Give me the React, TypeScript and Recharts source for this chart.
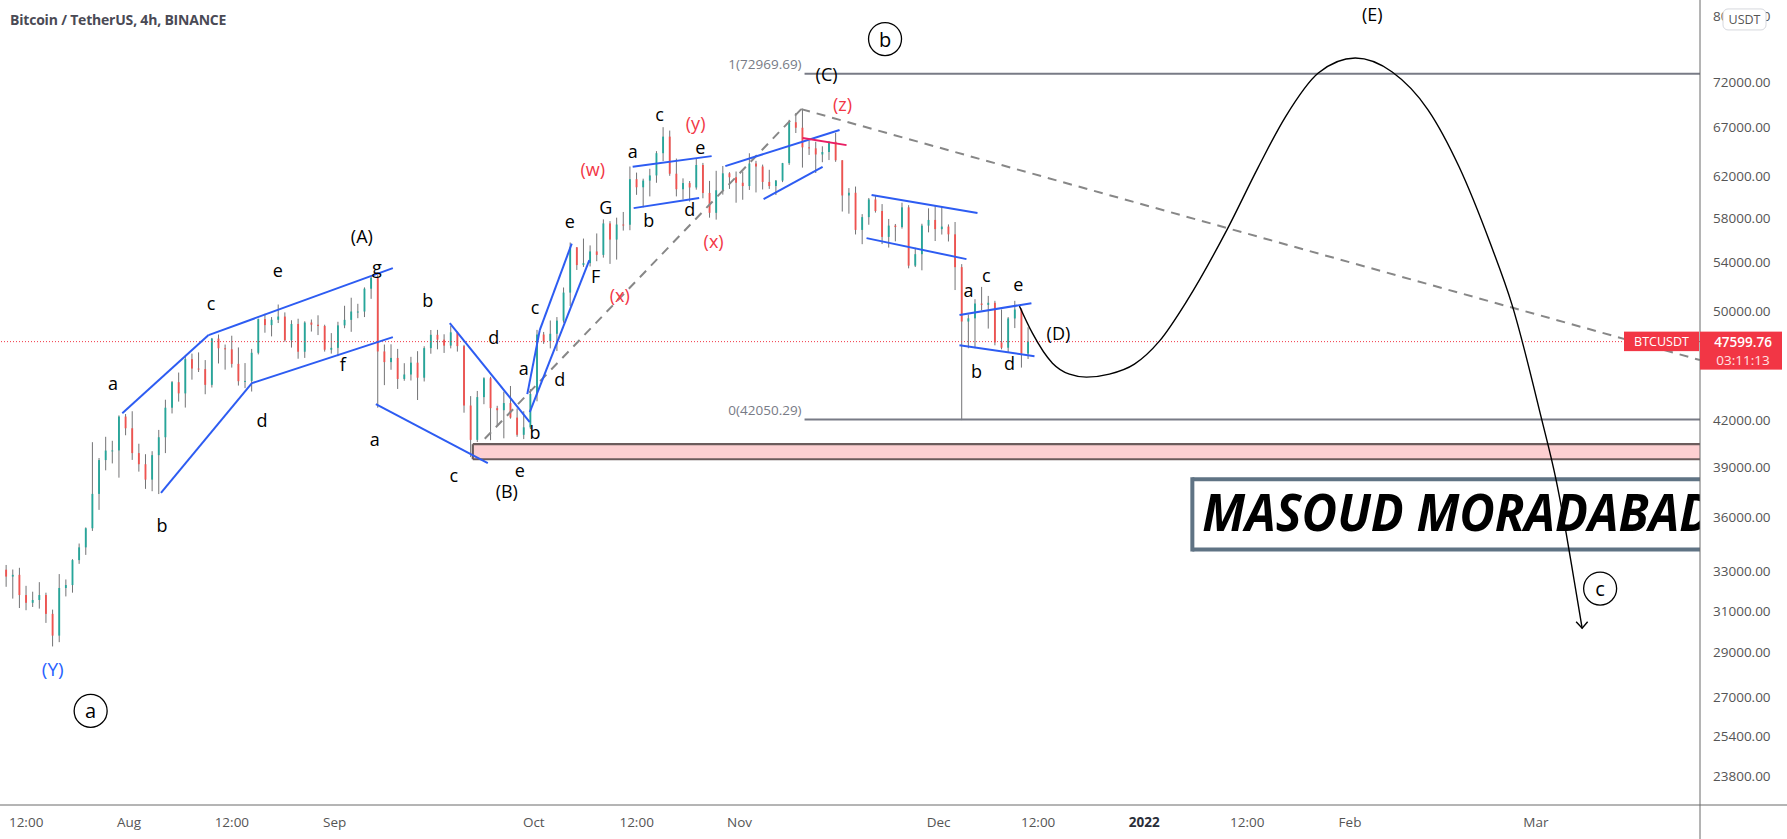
import React from 'react';
import {
  ComposedChart,
  Bar,
  Line,
  XAxis,
  YAxis,
  ReferenceLine,
  ReferenceArea,
  ReferenceDot,
} from 'recharts';

// ---------- time / price frame ----------
const ORIGIN_DATE = '2021-08-01';
const FIRST_CANDLE_DATE = '2021-07-13';
const X_MIN = -19.44;
const X_MAX = 236.74;
const Y_MIN = 22740;
const Y_MAX = 82060;

// ---------- daily candles (Jul 13 – Dec 14, 2021) ----------
const OPEN = [
  33090, 32730, 32820, 31780, 31390, 31530, 31780, 30840, 29790, 32140, 32290, 33600, 34290, 35350, 37340, 39410, 40010, 40020, 42240,
  41460, 39850, 39150, 38200, 39720, 40870, 42840, 44620, 43830, 46290, 45600, 45560, 44430, 47830, 47100, 47020, 45940, 44690, 44710, 46760, 49340, 48870, 49290, 49540, 47700, 48960, 46840, 49070, 48900, 48800, 46990,
  47130, 48850, 49280, 49940, 49940, 51790, 52700, 46860, 46070, 46380, 44850, 45170, 46030, 44940, 47110, 48120, 47750, 47300, 48310, 47260, 42990, 40700, 43570, 44900, 42810, 42670, 43160, 42170, 41030, 41520,
  43790, 48140, 47630, 48200, 49220, 51470, 55320, 53780, 53950, 54960, 54660, 57470, 56010, 57370, 57350, 61670, 60880, 61530, 62040, 64280, 66000, 62210, 60690, 61290, 60860, 63080, 60330, 58450, 60590, 62250, 61860,
  61320, 61000, 63230, 62930, 61400, 61000, 61530, 63270, 67530, 66940, 64880, 64780, 64150, 64400, 65470, 63560, 60090, 60350, 56880, 58050, 59710, 58620, 56250, 57270, 57140, 58960, 53730, 54720, 57270, 57790,
  56950, 57180, 56480, 53600, 49150, 49400, 50580, 50470, 50640, 47540, 47140, 49390, 50100, 46700,
];
const HIGH = [
  33340, 33100, 33190, 32250, 31950, 32440, 31900, 31050, 32860, 32580, 33650, 34500, 35400, 40550, 39540, 40900, 40640, 42320, 42410,
  42600, 40450, 39780, 39970, 41350, 43390, 44700, 45310, 46460, 46700, 46790, 46220, 47880, 48140, 47380, 48050, 47160, 46000, 47050, 49380, 49760, 49500, 50500, 49870, 49250, 49370, 49170, 49310, 49640, 48900, 48250,
  49130, 50400, 51050, 50560, 51900, 52800, 52920, 47380, 47400, 47050, 45990, 46460, 46880, 47250, 48490, 48500, 48160, 48810, 48370, 47360, 43640, 44000, 44970, 45000, 42970, 43950, 44350, 42790, 42600, 44130,
  48500, 48340, 49230, 49500, 51890, 55750, 55340, 56100, 55490, 56560, 57840, 57680, 58000, 58530, 62930, 62320, 61720, 62700, 64490, 67000, 66640, 63730, 61750, 61490, 63710, 63290, 61500, 62500, 62980, 62360, 62430,
  62420, 64270, 63500, 63120, 62600, 61590, 63290, 67790, 68530, 69000, 65600, 65460, 64990, 65500, 66400, 63560, 60800, 60950, 58330, 59850, 60030, 59270, 57880, 57420, 59400, 59170, 55280, 57440, 58870, 59170,
  59050, 57380, 57600, 53860, 49700, 50930, 51940, 51200, 50800, 50100, 49500, 50800, 50200, 48700,
];
const LOW = [
  32200, 31600, 31130, 31020, 31180, 31100, 30400, 29280, 29480, 31710, 31900, 33400, 33880, 35200, 36400, 38770, 39200, 38320, 41000,
  39420, 38690, 37640, 37500, 37330, 39850, 42450, 43260, 42850, 44800, 45350, 43770, 44240, 45970, 45520, 45670, 44380, 44200, 43960, 46640, 48280, 48000, 49030, 47600, 47150, 46320, 46380, 48370, 48100, 46850, 46700,
  46510, 48630, 48350, 49410, 49500, 50960, 42840, 44410, 45510, 44140, 44720, 44740, 43370, 44670, 46690, 47020, 46750, 47090, 46850, 42500, 39600, 40560, 43080, 40680, 41650, 40800, 42100, 40900, 40750, 41410,
  43280, 47430, 47090, 46890, 49060, 50380, 53360, 53620, 53660, 54110, 54420, 53880, 54250, 56820, 56850, 60150, 58960, 60000, 61320, 63480, 62000, 60000, 59700, 59510, 60650, 59820, 58000, 57820, 60170, 60720, 59400,
  59680, 60620, 60380, 60670, 60720, 60130, 61380, 63090, 66380, 62820, 64100, 62280, 63360, 63580, 63400, 58570, 58370, 56470, 55600, 57350, 58470, 55610, 55300, 55850, 57000, 53500, 53610, 53330, 56660, 55880,
  56460, 55840, 51680, 42000, 47100, 47100, 50040, 48600, 47320, 47020, 46750, 48640, 45670, 46300,
];
const CLOSE = [
  32730, 32820, 31780, 31390, 31530, 31780, 30840, 29790, 32140, 32290, 33600, 34290, 35350, 37340, 39410, 40010, 40020, 42240, 41460,
  39850, 39150, 38200, 39720, 40870, 42840, 44620, 43830, 46290, 45600, 45560, 44430, 47830, 47100, 47020, 45940, 44690, 44710, 46760, 49340, 48870, 49290, 49540, 47700, 48960, 46840, 49070, 48900, 48800, 46990, 47130,
  48850, 49280, 49940, 49940, 51790, 52700, 46860, 46070, 46380, 44850, 45170, 46030, 44940, 47110, 48120, 47750, 47300, 48310, 47260, 42990, 40700, 43570, 44900, 42810, 42670, 43160, 42170, 41030, 41520, 43790,
  48140, 47630, 48200, 49220, 51470, 55320, 53780, 53950, 54960, 54660, 57470, 56010, 57370, 57350, 61670, 60880, 61530, 62040, 64280, 66000, 62210, 60690, 61290, 60860, 63080, 60330, 58450, 60590, 62250, 61860, 61320,
  61000, 63230, 62930, 61400, 61000, 61530, 63270, 67530, 66940, 64880, 64780, 64150, 64400, 65470, 63560, 60090, 60350, 56880, 58050, 59710, 58620, 56250, 57270, 57140, 58960, 53730, 54720, 57270, 57790, 56950,
  57180, 56480, 53600, 49150, 49400, 50580, 50470, 50640, 47540, 47140, 49390, 50100, 46700, 47600,
];
const LAST_PRICE = 47599.76;

// ---------- axes ----------
const Y_TICKS = [23800, 25400, 27000, 29000, 31000, 33000, 36000, 39000, 42000, 50000, 54000, 58000, 62000, 67000, 72000, 80000];
const X_TICK_DAYS = [-15.5, 0, 15.5, 31, 61, 76.5, 92, 122, 137, 153, 168.5, 184, 212];
const X_TICK_LABELS = ['12:00', 'Aug', '12:00', 'Sep', 'Oct', '12:00', 'Nov', 'Dec', '12:00', '2022', '12:00', 'Feb', 'Mar'];

// ---------- drawings (day since Aug 1, price) ----------
const BLACK_LABELS: [string, number, number][] = [
  ['(A)', 35.09, 56330], ['g', 37.35, 53650], ['e', 22.44, 53350], ['c', 12.35, 50610], ['a', -2.41, 44590],
  ['b', 4.97, 35520], ['d', 20.03, 42000], ['f', 32.23, 45920], ['b', 45.03, 50850], ['a', 37.05, 40740],
  ['c', 48.95, 38470], ['d', 54.97, 47940], ['e', 58.89, 38770], ['(B)', 56.93, 37500], ['a', 59.49, 45630],
  ['b', 61.2, 41200], ['c', 61.2, 50290], ['d', 64.91, 44830], ['e', 66.42, 57690], ['F', 70.33, 52840],
  ['G', 71.84, 58990], ['a', 75.9, 64500], ['b', 78.31, 57830], ['c', 79.97, 68420], ['e', 86.1, 64900],
  ['d', 84.49, 58800], ['(C)', 105.12, 72930], ['a', 126.5, 51670], ['c', 129.2, 52920], ['e', 134.0, 52170],
  ['(D)', 140.06, 48250], ['b', 127.7, 45410], ['d', 132.68, 46000], ['(E)', 187.35, 80300],
];
const RED_LABELS: [string, number, number][] = [
  ['(w)', 69.88, 62680], ['(x)', 73.95, 51260], ['(y)', 85.39, 67400], ['(x)', 88.1, 55870], ['(z)', 107.53, 69510],
];
const BLUE_LABELS: [string, number, number][] = [['(Y)', -11.49, 28230]];
const CIRCLE_LABELS: [string, number, number][] = [['b', 113.93, 77110], ['a', -5.78, 26420], ['c', 221.69, 32110]];

const BLUE_SEGMENTS: [number, number, number, number][] = [
  [-1.01, 42470, 11.99, 48100], [11.99, 48100, 39.76, 53520], [4.82, 37400, 18.52, 44550], [18.52, 44550, 39.76, 47940],
  [37.2, 43080, 54.07, 39220], [48.34, 49020, 60.39, 41870], [60.02, 43780, 61.9, 48480], [61.9, 48480, 66.72, 55650],
  [60.39, 42540, 69.37, 54210], [75.9, 62910, 87.8, 63980], [76.05, 58890, 85.92, 59840], [89.86, 62970, 107.08, 66700],
  [95.63, 59740, 104.52, 62880], [111.9, 60130, 127.86, 58430], [111.14, 56140, 126.2, 54290], [125.15, 49660, 135.99, 50610],
  [125.15, 47330, 136.45, 46510],
];
const PINK_SEGMENTS: [number, number, number, number][] = [[101.51, 65850, 108.13, 65110]];
const DASHED_SEGMENTS: [number, number, number, number][] = [[53.61, 40770, 101.3, 68960], [101.3, 68960, X_MAX, 46220]];

const FIB_START = 101.8;
const FIB_LEVELS = [72969.69, 42050.29];
const FIB_TEXTS: [string, number, number][] = [['1(72969.69)', 101.36, 74100], ['0(42050.29)', 101.36, 42670]];

const ZONE = { x1: 51.81, y1: 39460, y2: 40420 };
const SIGN_BOX = { x1: 160.24, y1: 34171, y2: 38224 };
const SIGN_TEXT = 'MASOUD MORADABAD';

const CURVE_DAYS = [134.19, 136.14, 139.16, 141.72, 144.28, 147.74, 151.51, 155.27, 159.49, 165.51, 170.18, 174.25, 179.22, 184.79, 190.36, 195.78, 200.45, 205.12, 208.43, 212.8, 215.06, 216.57, 217.77, 218.98];
const CURVE_PRICES = [50372, 48248, 45993, 45194, 44978, 45194, 45920, 47637, 50857, 56957, 62872, 68091, 73041, 74809, 73158, 68855, 62872, 55699, 50452, 42198, 38164, 35071, 32538, 30140];

// ---------- styles ----------
const FONT = '"Open Sans", "DejaVu Sans", sans-serif';
const AXIS = '#6a6a6a';
const UP = '#26a69a';
const DOWN = '#ef5350';
const WICK = '#737375';
const BLUE = '#2d5cf2';

const DAY_MS = 86400000;
const firstOffset = (Date.parse(FIRST_CANDLE_DATE) - Date.parse(ORIGIN_DATE)) / DAY_MS;
const candles = CLOSE.map((c, i) => ({
  day: firstOffset + i + 0.5,
  range: [LOW[i], HIGH[i]],
  o: OPEN[i],
  h: HIGH[i],
  l: LOW[i],
  c,
}));
const curveData = CURVE_DAYS.map((d, i) => ({ day: d, price: CURVE_PRICES[i] }));

const Candle = (props: any) => {
  const { x, y, width, height, payload } = props;
  if (!payload || y == null || height == null) return <g />;
  const { o, h, l, c } = payload;
  const lh = Math.log(h);
  const span = lh - Math.log(l) || 1;
  const py = (v: number) => y + ((lh - Math.log(v)) / span) * height;
  const up = c >= o;
  const color = up ? UP : DOWN;
  const mid = x + width / 2;
  const top = py(Math.max(o, c));
  const bot = py(Math.min(o, c));
  return (
    <g>
      <line x1={mid} x2={mid} y1={y} y2={y + height} stroke={WICK} strokeWidth={1} />
      <rect x={x} y={top} width={width} height={Math.max(1, bot - top)} fill={color} />
    </g>
  );
};

const XTick = (props: any) => {
  const { x, y, payload } = props;
  const i = X_TICK_DAYS.indexOf(payload.value);
  const label = i >= 0 ? X_TICK_LABELS[i] : '';
  const bold = label === '2022';
  return (
    <text x={x} y={y + 17} textAnchor="middle" dominantBaseline="central" fill={bold ? '#2a2e39' : '#555'}
      fontWeight={bold ? 700 : 400} fontSize={13.5} fontFamily={FONT}>
      {label}
    </text>
  );
};

const YTick = (props: any) => {
  const { x, y, payload } = props;
  const v = payload.value as number;
  return (
    <g>
      <text x={x} y={y} textAnchor="start" dominantBaseline="central" fill="#555" fontSize={13.5} fontFamily={FONT}>
        {v.toFixed(2)}
      </text>
      {v === 80000 && (
        <g>
          <rect x={x + 10} y={y - 7} width={43} height={21} rx={5} fill="#fff" stroke="#d6d8de" />
          <text x={x + 31.5} y={y + 3.5} textAnchor="middle" dominantBaseline="central" fill="#555" fontSize={12.5} fontFamily={FONT}>
            USDT
          </text>
        </g>
      )}
    </g>
  );
};

const textShape = (t: string, color: string, size: number, anchor: string = 'middle') => (s: any) => (
  <text x={s.cx} y={s.cy} textAnchor={anchor} dominantBaseline="central" fill={color} fontSize={size} fontFamily={FONT}>
    {t}
  </text>
);

const circleShape = (t: string) => (s: any) => (
  <g>
    <circle cx={s.cx} cy={s.cy} r={16.5} fill="#fff" stroke="#000" strokeWidth={1.3} />
    <text x={s.cx} y={s.cy} textAnchor="middle" dominantBaseline="central" fill="#000" fontSize={20} fontFamily={FONT}>
      {t}
    </text>
  </g>
);

const zoneShape = (p: any) => {
  const right = p.x + p.width;
  return (
    <g>
      <rect x={p.x} y={p.y} width={p.width} height={p.height} fill="#fdd0d2" />
      <line x1={p.x} x2={right} y1={p.y} y2={p.y} stroke="#6b5c5c" strokeWidth={2.2} />
      <line x1={p.x} x2={right} y1={p.y + p.height} y2={p.y + p.height} stroke="#6b5c5c" strokeWidth={2.2} />
      <line x1={p.x} x2={p.x} y1={p.y} y2={p.y + p.height} stroke="#6b5c5c" strokeWidth={2.2} />
    </g>
  );
};

const signShape = (p: any) => {
  const right = p.x + p.width;
  return (
    <g>
      <defs>
        <clipPath id="sign-clip">
          <rect x={p.x - 4} y={p.y - 4} width={p.width + 4} height={p.height + 8} />
        </clipPath>
      </defs>
      <g clipPath="url(#sign-clip)">
        <line x1={p.x} x2={right} y1={p.y} y2={p.y} stroke="#5f7384" strokeWidth={4} />
        <line x1={p.x} x2={right} y1={p.y + p.height} y2={p.y + p.height} stroke="#5f7384" strokeWidth={4} />
        <line x1={p.x} x2={p.x} y1={p.y - 2} y2={p.y + p.height + 2} stroke="#5f7384" strokeWidth={4} />
        <text x={p.x + 10} y={p.y + 52} fill="#000" fontSize={52} fontWeight={700} fontStyle="italic"
          fontFamily={FONT} textLength={510} lengthAdjust="spacingAndGlyphs">
          {SIGN_TEXT}
        </text>
      </g>
    </g>
  );
};

const priceTagShape = (s: any) => (
  <g>
    <rect x={s.cx - 76} y={s.cy - 10} width={75} height={19.5} fill="#f23645" />
    <text x={s.cx - 38.5} y={s.cy} textAnchor="middle" dominantBaseline="central" fill="#fff" fontSize={12.5} fontFamily={FONT}>
      BTCUSDT
    </text>
    <rect x={s.cx} y={s.cy - 10} width={82} height={38} fill="#f23645" />
    <text x={s.cx + 43} y={s.cy} textAnchor="middle" dominantBaseline="central" fill="#fff" fontSize={13.5} fontWeight={600} fontFamily={FONT}>
      {LAST_PRICE.toFixed(2)}
    </text>
    <text x={s.cx + 43} y={s.cy + 18.5} textAnchor="middle" dominantBaseline="central" fill="#ffe3e3" fontSize={13.5} fontFamily={FONT}>
      03:11:13
    </text>
  </g>
);

const frameShape = (s: any) => (
  <g>
    <line x1={s.cx} x2={s.cx + 90} y1={s.cy} y2={s.cy} stroke={AXIS} strokeWidth={1} />
    <line x1={s.cx} x2={s.cx} y1={s.cy} y2={s.cy + 40} stroke={AXIS} strokeWidth={1} />
  </g>
);

const arrowDot = (p: any) => {
  if (p.index !== CURVE_DAYS.length - 1) return <g key={`cd${p.index}`} />;
  return (
    <path key="arrow" d={`M${p.cx - 6},${p.cy - 6.5} L${p.cx},${p.cy} L${p.cx + 5.5},${p.cy - 6.5}`}
      stroke="#000" strokeWidth={1.4} fill="none" />
  );
};

export default function App() {
  return (
    <div style={{ position: 'absolute', left: 0, top: 0, width: 1787, height: 839, background: '#ffffff', overflow: 'hidden', fontFamily: FONT }}>
      <ComposedChart width={1787} height={839} data={candles} margin={{ top: 0, right: 0, bottom: 0, left: 0 }}>
        <XAxis dataKey="day" type="number" domain={[X_MIN, X_MAX]} allowDataOverflow ticks={X_TICK_DAYS} interval={0}
          tick={XTick} tickLine={false} tickSize={0} tickMargin={0} axisLine={{ stroke: AXIS }} height={34} />
        <YAxis orientation="right" type="number" scale="log" domain={[Y_MIN, Y_MAX]} allowDataOverflow ticks={Y_TICKS} interval={0}
          tick={YTick} tickLine={false} tickSize={0} tickMargin={13} axisLine={{ stroke: AXIS }} width={87} />

        <ReferenceArea x1={ZONE.x1} x2={X_MAX} y1={ZONE.y1} y2={ZONE.y2} ifOverflow="hidden" shape={zoneShape} />
        <ReferenceArea x1={SIGN_BOX.x1} x2={X_MAX} y1={SIGN_BOX.y1} y2={SIGN_BOX.y2} ifOverflow="hidden" shape={signShape} />

        {FIB_LEVELS.map((lv, i) => (
          <ReferenceLine key={`fib${i}`} segment={[{ x: FIB_START, y: lv }, { x: X_MAX, y: lv }]} ifOverflow="hidden"
            stroke="#787b86" strokeWidth={2} />
        ))}
        <ReferenceLine y={LAST_PRICE} ifOverflow="hidden" stroke="#f23645" strokeWidth={1} strokeDasharray="1 2" />

        <Bar dataKey="range" barSize={4} shape={Candle} isAnimationActive={false} />

        {DASHED_SEGMENTS.map((s, i) => (
          <ReferenceLine key={`ds${i}`} segment={[{ x: s[0], y: s[1] }, { x: s[2], y: s[3] }]} ifOverflow="hidden"
            stroke="#878787" strokeWidth={2} strokeDasharray="9 7" />
        ))}
        {BLUE_SEGMENTS.map((s, i) => (
          <ReferenceLine key={`bs${i}`} segment={[{ x: s[0], y: s[1] }, { x: s[2], y: s[3] }]} ifOverflow="visible"
            stroke={BLUE} strokeWidth={2} />
        ))}
        {PINK_SEGMENTS.map((s, i) => (
          <ReferenceLine key={`ps${i}`} segment={[{ x: s[0], y: s[1] }, { x: s[2], y: s[3] }]} ifOverflow="visible"
            stroke="#e91e63" strokeWidth={2} />
        ))}

        <Line data={curveData} dataKey="price" type="monotone" stroke="#000" strokeWidth={1.4} dot={arrowDot}
          activeDot={false} isAnimationActive={false} />

        {FIB_TEXTS.map(([t, d, p], i) => (
          <ReferenceDot key={`ft${i}`} x={d} y={p} r={0} ifOverflow="visible" shape={textShape(t, '#787b86', 13.5, 'end')} />
        ))}
        {BLACK_LABELS.map(([t, d, p], i) => (
          <ReferenceDot key={`bl${i}`} x={d} y={p} r={0} ifOverflow="visible" shape={textShape(t, '#000', 18)} />
        ))}
        {RED_LABELS.map(([t, d, p], i) => (
          <ReferenceDot key={`rl${i}`} x={d} y={p} r={0} ifOverflow="visible" shape={textShape(t, '#f23645', 18)} />
        ))}
        {BLUE_LABELS.map(([t, d, p], i) => (
          <ReferenceDot key={`yl${i}`} x={d} y={p} r={0} ifOverflow="visible" shape={textShape(t, '#2962ff', 19)} />
        ))}
        {CIRCLE_LABELS.map(([t, d, p], i) => (
          <ReferenceDot key={`cl${i}`} x={d} y={p} r={0} ifOverflow="visible" shape={circleShape(t)} />
        ))}

        <ReferenceDot x={X_MAX} y={LAST_PRICE} r={0} ifOverflow="visible" shape={priceTagShape} />
        <ReferenceDot x={X_MAX} y={Y_MIN} r={0} ifOverflow="visible" shape={frameShape} />
      </ComposedChart>
      <div style={{ position: 'absolute', left: 10, top: 10, fontSize: 14, fontWeight: 700, color: '#4a4a55', fontFamily: FONT, letterSpacing: -0.2 }}>
        Bitcoin / TetherUS, 4h, BINANCE
      </div>
    </div>
  );
}
